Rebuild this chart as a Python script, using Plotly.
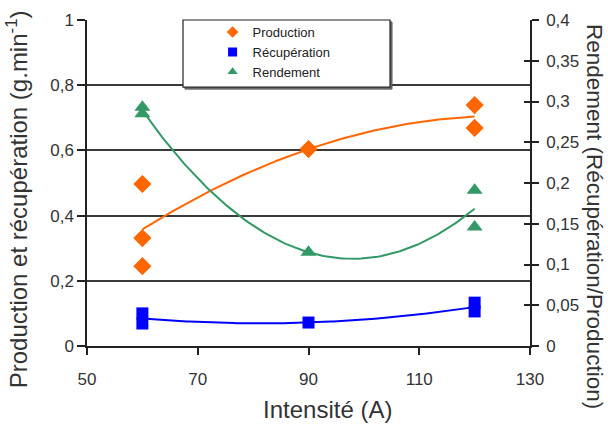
import numpy as np
import plotly.graph_objects as go

# ---- data ----
intensite_prod = [60, 60, 60, 90, 120, 120]
production = [0.497, 0.331, 0.245, 0.604, 0.739, 0.669]

intensite_recup = [60, 60, 90, 120, 120]
recuperation = [0.100, 0.069, 0.072, 0.133, 0.106]

intensite_rend = [60, 60, 90, 120, 120]
rendement = [0.293, 0.285, 0.115, 0.191, 0.146]

x_ticks = [50, 70, 90, 110, 130]
y_left_ticks = [0, 0.2, 0.4, 0.6, 0.8, 1]

ORANGE = "#FF6600"
BLUE = "#0000FF"
GREEN = "#339966"
FONT = "Liberation Sans"

# polynomial (order 2) trendlines, as in the spreadsheet
xs = np.linspace(60, 120, 121)
def trend(x, y):
    c = np.polyfit(x, y, 2)
    return np.polyval(c, xs)

fig = go.Figure()

# trendlines
fig.add_trace(go.Scatter(x=xs, y=trend(intensite_prod, production), mode="lines",
                         line=dict(color=ORANGE, width=2), showlegend=False, hoverinfo="skip"))
fig.add_trace(go.Scatter(x=xs, y=trend(intensite_recup, recuperation), mode="lines",
                         line=dict(color=BLUE, width=2), showlegend=False, hoverinfo="skip"))
fig.add_trace(go.Scatter(x=xs, y=trend(intensite_rend, rendement), mode="lines", yaxis="y2",
                         line=dict(color=GREEN, width=2), showlegend=False, hoverinfo="skip"))

# data points
fig.add_trace(go.Scatter(x=intensite_prod, y=production, mode="markers", showlegend=False,
                         marker=dict(symbol="diamond", size=14, color=ORANGE)))
fig.add_trace(go.Scatter(x=intensite_recup, y=recuperation, mode="markers", showlegend=False,
                         marker=dict(symbol="square", size=12, color=BLUE)))
fig.add_trace(go.Scatter(x=intensite_rend, y=rendement, mode="markers", yaxis="y2", showlegend=False,
                         marker=dict(symbol="triangle-up", size=14, color=GREEN)))

# legend entries (small symbols)
for name, sym, col in [("Production", "diamond", ORANGE),
                       ("Récupération", "square", BLUE),
                       ("Rendement", "triangle-up", GREEN)]:
    fig.add_trace(go.Scatter(x=[None], y=[None], mode="markers", name=name,
                             marker=dict(symbol=sym, size=9, color=col)))

# inside ticks on the right axis (cross ticks)
fig.add_trace(go.Scatter(x=[None], y=[None], yaxis="y3", showlegend=False))

fig.update_layout(
    width=608, height=425,
    margin=dict(l=87, r=78, t=20, b=79, autoexpand=False),
    plot_bgcolor="white", paper_bgcolor="white",
    separators=", ",
    font=dict(family=FONT, color="#333333"),
    xaxis=dict(range=[50, 130], tickvals=x_ticks, ticks="outside", ticklen=7,
               tickwidth=1.5, tickcolor="#222222",
               showline=True, linecolor="#222222", linewidth=1.5, showgrid=False,
               zeroline=False, tickfont=dict(size=17, color="#333333"),
               ticklabelstandoff=10),
    yaxis=dict(range=[0, 1], tickvals=y_left_ticks, ticks="outside", ticklen=8,
               tickwidth=1.5, tickcolor="#222222",
               showline=True, linecolor="#222222", linewidth=1.5,
               showgrid=True, gridcolor="#3a3a3a", gridwidth=1.5, zeroline=False,
               tickfont=dict(size=17, color="#333333")),
    yaxis2=dict(range=[0, 0.4], dtick=0.05, tick0=0, overlaying="y", side="right",
                ticks="outside", ticklen=7, tickwidth=1.5, tickcolor="#222222",
                showline=True, linecolor="#222222", linewidth=1.5, showgrid=False,
                zeroline=False, tickfont=dict(size=17, color="#333333"),
                ticklabelstandoff=4),
    yaxis3=dict(range=[0, 0.4], dtick=0.05, tick0=0, overlaying="y", side="right",
                ticks="inside", ticklen=6, tickwidth=1.5, tickcolor="#222222",
                showticklabels=False, showline=False, showgrid=False, zeroline=False),
    legend=dict(x=0.2835, y=1.009, xanchor="left", yanchor="top",
                bgcolor="rgba(0,0,0,0)", borderwidth=0,
                font=dict(family=FONT, size=13, color="#222222"),
                itemwidth=30, tracegroupgap=0),
    shapes=[
        dict(type="rect", xref="paper", yref="paper", x0=0.2212, x1=0.6885, y0=0.788, y1=0.994,
             line=dict(color="#555555", width=1), fillcolor="#777777", layer="above"),
        dict(type="rect", xref="paper", yref="paper", x0=0.2167, x1=0.684, y0=0.794, y1=1.0,
             line=dict(color="#222222", width=1.2), fillcolor="white", layer="above"),
    ],
    annotations=[
        dict(text="Intensité (A)", xref="paper", yref="paper", x=0.544, y=-0.196,
             xanchor="center", yanchor="middle", showarrow=False,
             font=dict(family=FONT, size=24, color="#333333")),
        dict(text="Production et récupération (g.min<sup>-1</sup>)", xref="paper", yref="paper",
             x=-0.158, y=0.45, xanchor="center", yanchor="middle", textangle=-90,
             showarrow=False, font=dict(family=FONT, size=24, color="#333333")),
        dict(text="Rendement (Récupération/Production)", xref="paper", yref="paper",
             x=1.1444, y=0.396, xanchor="center", yanchor="middle", textangle=90,
             showarrow=False, font=dict(family=FONT, size=22.5, color="#333333")),
    ],
)

fig.write_html("out.html",
               config={"displayModeBar": False},
               post_script="document.body.style.margin='0';document.body.style.overflow='hidden';")
